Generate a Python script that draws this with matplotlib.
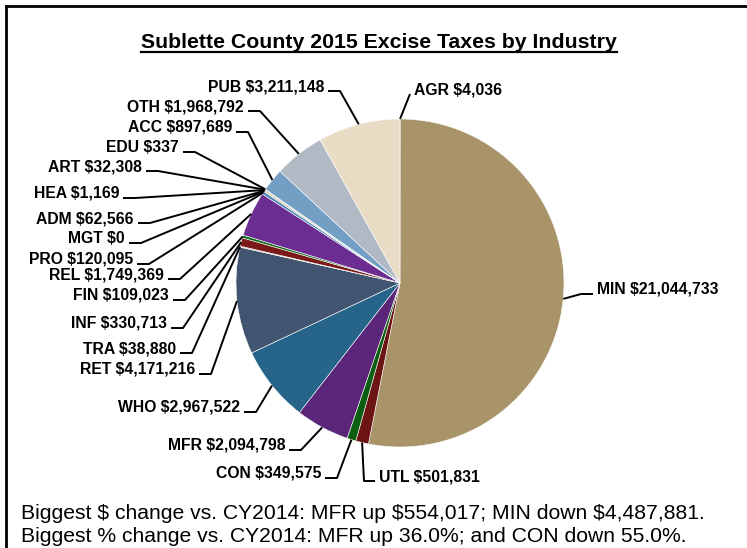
import numpy as np
import matplotlib.pyplot as plt

industries = ["AGR", "MIN", "UTL", "CON", "MFR", "WHO", "RET", "TRA", "INF", "FIN",
              "REL", "PRO", "MGT", "ADM", "HEA", "ART", "EDU", "ACC", "OTH", "PUB"]
taxes = [4036, 21044733, 501831, 349575, 2094798, 2967522, 4171216, 38880, 330713, 109023,
         1749369, 120095, 0, 62566, 1169, 32308, 337, 897689, 1968792, 3211148]
colors = ["#CDB98F", "#A89468", "#6D1414", "#0C5E12", "#5B257A", "#266589", "#425570",
          "#C9AE86", "#7C1A1A", "#10691A", "#6C2D92", "#4F86B8", "#425570", "#C9AE86",
          "#7C1A1A", "#10691A", "#6C2D92", "#739FC5", "#B1B9C5", "#E9DCC5"]

title = "Sublette County 2015 Excise Taxes by Industry"
notes = ["Biggest $ change vs. CY2014: MFR up $554,017; MIN down $4,487,881.",
         "Biggest % change vs. CY2014: MFR up 36.0%; and CON down 55.0%."]

# label layout in pixels from top-left: text edge next to leader, baseline y, side, segment length
label_pos = {
    "AGR": (414, 94, "R", 0), "MIN": (597, 294, "R", 12), "UTL": (379, 481, "R", 11),
    "CON": (321, 478, "L", 12), "MFR": (285, 450, "L", 12), "WHO": (240, 412, "L", 12),
    "RET": (195, 374, "L", 12), "TRA": (176, 353, "L", 12), "INF": (167, 328, "L", 12),
    "FIN": (169, 300, "L", 12), "REL": (164, 279, "L", 12), "PRO": (133, 264, "L", 12),
    "MGT": (125, 243, "L", 12), "ADM": (134, 223, "L", 12), "HEA": (119, 198, "L", 12),
    "ART": (142, 171, "L", 12), "EDU": (179, 152, "L", 12), "ACC": (232, 132, "L", 12),
    "OTH": (244, 111, "L", 12), "PUB": (324, 91, "L", 12)}

W, H = 747, 548
cx, cy, r = 400, 283, 164


def P(x, y):
    return (x - cx) / r, (cy - y) / r


plt.rcParams.update({"font.family": "Liberation Sans"})
fig = plt.figure(figsize=(W / 100, H / 100), dpi=100)
ax = fig.add_axes([0, 0, 1, 1])

wedges, _ = ax.pie(taxes, colors=colors, startangle=90, counterclock=False, radius=1,
                   wedgeprops=dict(edgecolor="white", linewidth=0.4))
ax.set_xlim(-cx / r, (W - cx) / r)
ax.set_ylim(-(H - cy) / r, cy / r)
ax.set_aspect("auto")
ax.axis("off")

for name, val, w in zip(industries, taxes, wedges):
    x, y, side, seg = label_pos[name]
    mid = np.deg2rad((w.theta1 + w.theta2) / 2)
    px, py = np.cos(mid), np.sin(mid)
    if side == "L":
        xs = [x + 4, x + 4 + seg]
        ha = "right"
    else:
        xs = [x - 4, x - 4 - seg]
        ha = "left"
    a = P(xs[0], y)
    b = P(xs[1], y)
    ax.plot([a[0], b[0], px], [a[1], b[1], py], color="black", lw=1.4,
            solid_capstyle="butt", clip_on=False)
    tx, ty = P(x, y)
    ax.text(tx, ty, f"{name} ${val:,}", ha=ha, va="baseline", fontsize=11.3,
            fontweight="bold")

# title with underline
tx, ty = P(379, 47.5)
t = ax.text(tx, ty, title, ha="center", va="baseline", fontsize=15.3, fontweight="bold")
fig.canvas.draw()
bb = t.get_window_extent()
ul = H - 51.5
ax.plot([(bb.x0 - cx) / r, (bb.x1 - cx) / r], [(ul - (H - cy)) / r] * 2,
        color="black", lw=1.6, clip_on=False)

for i, line in enumerate(notes):
    nx, ny = P(21, 519 + 23 * i)
    ax.text(nx, ny, line, ha="left", va="baseline", fontsize=15.25)

# chart frame (left and top edges visible)
ax.plot([P(6, 6)[0], P(6, H + 5)[0]], [P(6, 6)[1], P(6, H + 5)[1]], color="black", lw=2, clip_on=False)
ax.plot([P(6, 6)[0], P(W + 5, 6)[0]], [P(6, 6)[1], P(W + 5, 6)[1]], color="black", lw=2, clip_on=False)

fig.savefig("out.png", dpi=100)
